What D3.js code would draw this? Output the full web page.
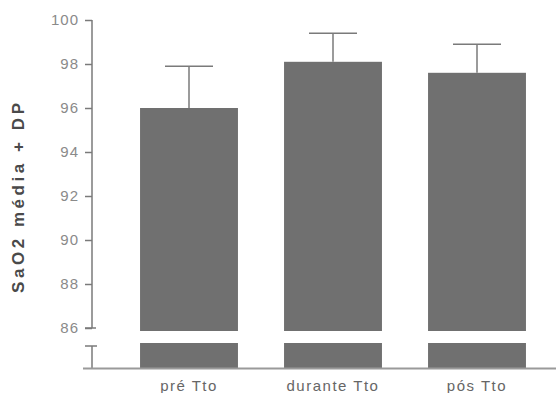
<!DOCTYPE html>
<html>
<head>
<meta charset="utf-8">
<script src="https://cdn.jsdelivr.net/npm/d3@7"></script>
<style>
  body { margin: 0; background: #fff; }
  svg { font-family: "Liberation Sans", Arial, sans-serif; }
</style>
</head>
<body>
<div id="chart"></div>
<script>
// data
var categories = ["pré Tto", "durante Tto", "pós Tto"];
var means = [96.0, 98.1, 97.6];
var sds = [1.9, 1.3, 1.3];
var yTicks = [86, 88, 90, 92, 94, 96, 98, 100];

var svgWidth = 556, svgHeight = 393;
var svg = d3.select("#chart").append("svg")
    .attr("width", svgWidth)
    .attr("height", svgHeight);

var barColor = "#707070";
var axisColor = "#7a7a7a";

var yScale = d3.scaleLinear().domain([86, 100]).range([328, 20]);
var xScale = d3.scaleBand().domain(categories)
    .range([117, 549]).paddingInner(0.32).paddingOuter(0.16);

// break region (lower stub of axis and bars)
var breakTop = 343, baseY = 368;

// upper bars
svg.selectAll("rect.up").data(means).enter().append("rect")
    .attr("class", "up")
    .attr("x", (d, i) => xScale(categories[i]))
    .attr("y", d => yScale(d))
    .attr("width", xScale.bandwidth())
    .attr("height", d => yScale(86) + 3 - yScale(d))
    .attr("fill", barColor);

// lower stubs below the break
svg.selectAll("rect.low").data(categories).enter().append("rect")
    .attr("class", "low")
    .attr("x", d => xScale(d))
    .attr("y", breakTop)
    .attr("width", xScale.bandwidth())
    .attr("height", baseY - breakTop)
    .attr("fill", barColor);

// error bars (upper only)
var capW = 48;
svg.selectAll("line.err").data(means).enter().append("line")
    .attr("x1", (d, i) => xScale(categories[i]) + xScale.bandwidth() / 2)
    .attr("x2", (d, i) => xScale(categories[i]) + xScale.bandwidth() / 2)
    .attr("y1", d => yScale(d))
    .attr("y2", (d, i) => yScale(d + sds[i]))
    .attr("stroke", axisColor).attr("stroke-width", 1.5);
svg.selectAll("line.cap").data(means).enter().append("line")
    .attr("x1", (d, i) => xScale(categories[i]) + xScale.bandwidth() / 2 - capW / 2)
    .attr("x2", (d, i) => xScale(categories[i]) + xScale.bandwidth() / 2 + capW / 2)
    .attr("y1", (d, i) => yScale(d + sds[i]))
    .attr("y2", (d, i) => yScale(d + sds[i]))
    .attr("stroke", axisColor).attr("stroke-width", 1.5);

// y axis (upper part)
var axisX = 92;
var yAxis = d3.axisLeft(yScale).tickValues(yTicks).tickSize(7).tickPadding(5);
var gy = svg.append("g")
    .attr("transform", `translate(${axisX},0)`)
    .call(yAxis);
gy.select(".domain").remove();
gy.append("line").attr("x1", 0).attr("x2", 0)
    .attr("y1", yScale(100)).attr("y2", yScale(86))
    .attr("stroke", axisColor).attr("stroke-width", 1.5);
gy.selectAll(".tick line").attr("stroke", axisColor).attr("stroke-width", 1.5);
gy.selectAll(".tick text")
    .attr("fill", "#8a8a8a")
    .attr("x", -13)
    .style("font-size", "15px")
    .style("letter-spacing", "1px");
// break caps
gy.append("line").attr("x1", -7).attr("x2", 4)
    .attr("y1", yScale(86)).attr("y2", yScale(86))
    .attr("stroke", axisColor).attr("stroke-width", 1.5);
gy.append("line").attr("x1", -7).attr("x2", 5)
    .attr("y1", breakTop + 3).attr("y2", breakTop + 3)
    .attr("stroke", axisColor).attr("stroke-width", 1.5);
gy.append("line").attr("x1", 0).attr("x2", 0)
    .attr("y1", breakTop + 3).attr("y2", baseY)
    .attr("stroke", axisColor).attr("stroke-width", 1.5);

// x axis
svg.append("line")
    .attr("x1", 83).attr("x2", 556)
    .attr("y1", baseY + 0.5).attr("y2", baseY + 0.5)
    .attr("stroke", "#9a9a9a").attr("stroke-width", 2);

svg.selectAll("text.cat").data(categories).enter().append("text")
    .attr("class", "cat")
    .attr("x", d => xScale(d) + xScale.bandwidth() / 2)
    .attr("y", 391)
    .attr("text-anchor", "middle")
    .attr("fill", "#666")
    .style("font-size", "15px")
    .style("letter-spacing", "1.5px")
    .text(d => d);

// y label
svg.append("text")
    .attr("transform", "translate(24,198) rotate(-90)")
    .attr("text-anchor", "middle")
    .attr("fill", "#4a4a4a")
    .attr("textLength", 190)
    .attr("lengthAdjust", "spacing")
    .style("font-size", "17px")
    .style("font-weight", "bold")
    .text("SaO2 média + DP");
</script>
</body>
</html>
